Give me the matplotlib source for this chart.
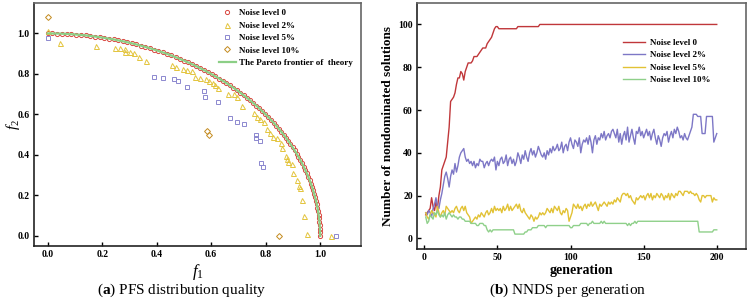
import matplotlib
matplotlib.use("Agg")
import matplotlib.pyplot as plt

plt.rcParams['font.family'] = ['Liberation Serif', 'DejaVu Serif']
plt.rcParams['mathtext.fontset'] = 'custom'
plt.rcParams['mathtext.rm'] = 'Liberation Serif'
plt.rcParams['mathtext.it'] = 'Liberation Serif:italic'
plt.rcParams['mathtext.bf'] = 'Liberation Serif:bold'

# ---- (a) Pareto front points ----
# noise level 0 lies on the theory arc: f2 read at 1 degree steps, f1 is the mirror
arc_f2 = [1.0000, 0.9998, 0.9994, 0.9986, 0.9976, 0.9962, 0.9945, 0.9925, 0.9903, 0.9877,
          0.9848, 0.9816, 0.9781, 0.9744, 0.9703, 0.9659, 0.9613, 0.9563, 0.9511, 0.9455,
          0.9397, 0.9336, 0.9272, 0.9205, 0.9135, 0.9063, 0.8988, 0.8910, 0.8829, 0.8746,
          0.8660, 0.8572, 0.8480, 0.8387, 0.8290, 0.8192, 0.8090, 0.7986, 0.7880, 0.7771,
          0.7660, 0.7547, 0.7431, 0.7314, 0.7193, 0.7071, 0.6947, 0.6820, 0.6691, 0.6561,
          0.6428, 0.6293, 0.6157, 0.6018, 0.5878, 0.5736, 0.5592, 0.5446, 0.5299, 0.5150,
          0.5000, 0.4848, 0.4695, 0.4540, 0.4384, 0.4226, 0.4067, 0.3907, 0.3746, 0.3584,
          0.3420, 0.3256, 0.3090, 0.2924, 0.2756, 0.2588, 0.2419, 0.2250, 0.2079, 0.1908,
          0.1736, 0.1564, 0.1392, 0.1219, 0.1045, 0.0872, 0.0698, 0.0523, 0.0349, 0.0175,
          0.0000]
arc_f1 = arc_f2[::-1]

n2_f1 = [0.0, 0.046, 0.176, 0.248, 0.264, 0.283, 0.285, 0.301, 0.316, 0.336, 0.360,
         0.456, 0.470, 0.496, 0.513, 0.529, 0.540, 0.560, 0.582, 0.593, 0.606, 0.615,
         0.624, 0.662, 0.683, 0.695, 0.713, 0.759, 0.769, 0.779, 0.793, 0.806, 0.815,
         0.828, 0.843, 0.855, 0.859, 0.873, 0.879, 0.883, 0.898, 0.902, 0.914, 0.923,
         0.926, 0.935, 0.941, 0.951, 1.039]
n2_f2 = [1.013, 0.951, 0.938, 0.929, 0.929, 0.921, 0.910, 0.910, 0.905, 0.885, 0.863,
         0.844, 0.836, 0.822, 0.819, 0.814, 0.783, 0.781, 0.776, 0.765, 0.757, 0.745,
         0.729, 0.699, 0.699, 0.684, 0.641, 0.609, 0.589, 0.577, 0.561, 0.526, 0.510,
         0.490, 0.485, 0.461, 0.436, 0.396, 0.380, 0.363, 0.355, 0.309, 0.276, 0.247,
         0.235, 0.178, 0.099, 0.008, 0.0]

n5_f1 = [0.0, 0.390, 0.422, 0.465, 0.480, 0.513, 0.572, 0.576, 0.624, 0.670, 0.695,
         0.720, 0.763, 0.766, 0.781, 0.784, 0.790, 1.058]
n5_f2 = [0.979, 0.786, 0.778, 0.773, 0.765, 0.737, 0.717, 0.684, 0.663, 0.581, 0.564,
         0.553, 0.498, 0.485, 0.469, 0.359, 0.342, 0.0]

n10_f1 = [0.0, 0.584, 0.592, 0.849]
n10_f2 = [1.079, 0.520, 0.498, 0.0]

# ---- (b) number of nondominated solutions per generation ----
generation = list(range(1, 201))
nnds_0 = ([11, 12, 13, 14, 19, 15, 13, 17, 14, 20,
           24, 32, 34, 36, 38, 45, 52, 64, 65, 66,
           68, 72, 75, 75, 78, 77, 74, 78, 80, 82,
           82, 82, 83, 85, 85, 85, 86, 87, 88, 89,
           89, 89, 91, 92, 93, 94, 96, 98, 99, 99,
           98, 98, 98, 98, 98, 98, 98, 98, 98, 98,
           98, 98, 98, 99, 99, 99, 99, 99, 99, 99,
           99, 99, 99, 99, 99, 99, 99, 99, 100, 100]
          + [100] * 120)
nnds_2 = [12, 11, 13, 12, 10, 14, 16, 19, 15, 14,
          18, 21, 25, 29, 31, 28, 24, 29, 32, 30,
          35, 31, 34, 38, 40, 41, 42, 38, 36, 37,
          35, 36, 34, 36, 33, 35, 34, 37, 36, 36,
          33, 35, 36, 34, 36, 37, 36, 38, 32, 36,
          34, 37, 38, 35, 36, 39, 34, 37, 38, 35,
          37, 34, 36, 40, 38, 35, 39, 37, 41, 38,
          36, 40, 42, 39, 41, 38, 40, 43, 41, 39,
          38, 40, 37, 41, 39, 42, 40, 43, 41, 42,
          44, 41, 42, 45, 40, 43, 44, 41, 45, 47,
          44, 42, 46, 45, 43, 47, 40, 44, 46, 45,
          47, 44, 48, 45, 40, 46, 48, 44, 47, 46,
          49, 47, 50, 46, 48, 49, 47, 50, 51, 49,
          47, 51, 45, 49, 44, 48, 50, 46, 52, 45,
          48, 51, 47, 44, 50, 49, 52, 48, 50, 47,
          49, 51, 48, 50, 46, 49, 51, 47, 44, 48,
          46, 43, 47, 49, 48, 50, 45, 48, 50, 47,
          51, 49, 52, 50, 47, 48, 46, 49, 47, 46,
          48, 50, 52, 58, 58, 58, 57, 57, 57, 49,
          49, 49, 57, 57, 57, 57, 57, 45, 47, 49]
nnds_5 = [12, 10, 9, 11, 13, 12, 11, 10, 15, 12,
          10, 12, 13, 11, 15, 14, 13, 12, 13, 12,
          14, 15, 13, 12, 14, 15, 13, 15, 12, 11,
          10, 7, 8, 9, 10, 9, 11, 10, 12, 11,
          10, 12, 13, 11, 12, 14, 12, 15, 13, 14,
          13, 14, 12, 15, 13, 14, 16, 13, 15, 13,
          14, 15, 16, 14, 16, 13, 12, 14, 12, 11,
          10, 9, 11, 10, 8, 10, 9, 10, 12, 11,
          12, 11, 12, 14, 13, 12, 14, 12, 15, 14,
          13, 15, 12, 11, 13, 12, 14, 13, 8, 10,
          12, 16, 15, 14, 16, 14, 15, 13, 15, 16,
          14, 16, 15, 17, 15, 16, 17, 15, 13, 16,
          15, 16, 17, 16, 15, 17, 16, 17, 16, 18,
          17, 19, 18, 17, 20, 21, 21, 20, 21, 19,
          20, 18, 17, 16, 19, 18, 19, 20, 19, 20,
          18, 20, 21, 19, 21, 18, 20, 19, 21, 20,
          19, 21, 20, 18, 20, 19, 21, 18, 21, 20,
          19, 21, 20, 22, 22, 21, 20, 22, 22, 22,
          21, 22, 21, 21, 20, 21, 20, 18, 17, 20,
          20, 19, 20, 20, 20, 20, 17, 19, 18, 18]
nnds_10 = [10, 7, 8, 11, 10, 9, 12, 11, 13, 11,
           10, 11, 10, 12, 9, 11, 12, 11, 10, 11,
           10, 10, 9, 10, 10, 9, 9, 8, 8, 8,
           8, 7, 7, 7, 7, 6, 6, 7, 7, 7,
           6, 6, 4, 3, 4, 3, 4, 4, 4, 4,
           4, 4, 4, 4, 4, 4, 4, 4, 4, 4,
           4, 2, 2, 2, 2, 2, 2, 2, 3, 3,
           4, 4, 4, 5, 5, 5, 5, 6, 6, 6,
           6, 6, 5, 6, 6, 6, 6, 6, 6, 6,
           6, 6, 6, 6, 6, 6, 6, 6, 6, 5,
           5, 6, 6, 6, 6, 6, 7, 7, 7, 7,
           7, 6, 7, 7, 8, 7, 7, 7, 7, 7,
           8, 7, 8, 7, 7, 7, 7, 7, 7, 7,
           7, 7, 7, 7, 7, 7, 7, 7, 6, 7,
           6, 7, 7, 8, 7, 8, 8, 8, 8, 8,
           8, 8, 8, 8, 8, 8, 8, 8, 8, 8,
           8, 8, 8, 8, 8, 8, 8, 8, 8, 8,
           8, 8, 8, 8, 8, 8, 8, 8, 8, 8,
           8, 8, 8, 8, 8, 8, 8, 3, 3, 3,
           3, 3, 3, 3, 3, 3, 3, 4, 4, 4]

fig = plt.figure(figsize=(7.49, 3.06), dpi=100)
ax1 = fig.add_axes([0.0454, 0.196, 0.4366, 0.794])
ax2 = fig.add_axes([0.5567, 0.186, 0.4393, 0.804])

ms = dict(linestyle='none', markerfacecolor='none', markeredgewidth=0.7)
ax1.plot(arc_f1, arc_f2, marker='o', markersize=3, color='#d9463e', label='Noise level 0', **ms)
ax1.plot(n2_f1, n2_f2, marker='^', markersize=3.6, color='#e3c43c', label='Noise level 2%', **ms)
ax1.plot(n5_f1, n5_f2, marker='s', markersize=3, color='#8c88cf', label='Noise level 5%', **ms)
ax1.plot(n10_f1, n10_f2, marker='D', markersize=3, color='#c48a1e', label='Noise level 10%', **ms)
ax1.plot(arc_f1, arc_f2, color='#8ccf86', linewidth=1.6, label='The Pareto frontier of  theory')

ax1.set_xlim(-0.05, 1.15)
ax1.set_ylim(-0.05, 1.15)
ax1.set_xticks([0.0, 0.2, 0.4, 0.6, 0.8, 1.0])
ax1.set_yticks([0.0, 0.2, 0.4, 0.6, 0.8, 1.0])
ax1.set_xticklabels(['0.0', '0.2', '0.4', '0.6', '0.8', '1.0'])
ax1.set_yticklabels(['0.0', '0.2', '0.4', '0.6', '0.8', '1.0'])
ax1.set_xlabel('$f_1$', fontsize=12, labelpad=2)
ax1.set_ylabel('$f_2$', fontsize=11)
ax1.yaxis.set_label_coords(-0.038, 0.5)
ax1.legend(loc='upper left', bbox_to_anchor=(0.565, 0.975), frameon=False,
           prop={'weight': 'bold', 'size': 6.5}, borderpad=0, borderaxespad=0,
           handlelength=1.9, handletextpad=0.35, labelspacing=0.45)

ax2.plot(generation, nnds_0, color='#c0373a', linewidth=1.0, label='Noise level 0')
ax2.plot(generation, nnds_2, color='#7d77c6', linewidth=1.0, label='Noise level 2%')
ax2.plot(generation, nnds_5, color='#e2c235', linewidth=1.0, label='Noise level 5%')
ax2.plot(generation, nnds_10, color='#8fd08a', linewidth=1.0, label='Noise level 10%')
ax2.set_xlim(-5, 220)
ax2.set_ylim(-5, 110)
ax2.set_xticks([0, 50, 100, 150, 200])
ax2.set_yticks([0, 20, 40, 60, 80, 100])
ax2.set_xlabel('generation', fontsize=10, fontweight='bold', labelpad=1)
ax2.set_ylabel('Number of nondominated solutions', fontsize=9.5, fontweight='bold', labelpad=3)
ax2.legend(loc='upper left', bbox_to_anchor=(0.626, 0.855), frameon=False,
           prop={'weight': 'bold', 'size': 6.5}, borderpad=0, borderaxespad=0,
           handlelength=2.4, handletextpad=0.55, labelspacing=0.45)

for ax in (ax1, ax2):
    ax.tick_params(direction='in', length=3, width=1, labelsize=7, pad=3)
    for lab in ax.get_xticklabels() + ax.get_yticklabels():
        lab.set_fontweight('bold')
    for side in ('left', 'bottom'):
        ax.spines[side].set_color('#222222')
        ax.spines[side].set_linewidth(1.2)
    for side in ('top', 'right'):
        ax.spines[side].set_color('#666666')
        ax.spines[side].set_linewidth(1.2)

fig.text(0.242, 0.04, r'($\mathbf{a}$) PFS distribution quality', fontsize=11, ha='center')
fig.text(0.758, 0.04, r'($\mathbf{b}$) NNDS per generation', fontsize=11, ha='center')

fig.savefig('out.png', dpi=100)
